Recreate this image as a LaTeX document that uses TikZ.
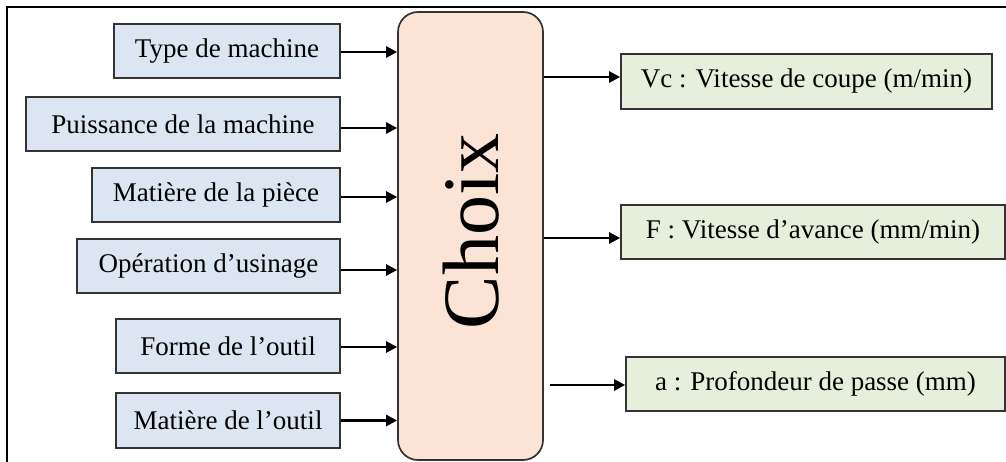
\documentclass[tikz,border=0pt]{standalone}
\usepackage{fontspec}
\setmainfont{Liberation Serif}
\usetikzlibrary{arrows.meta,calc}
\definecolor{inblue}{HTML}{DCE6F2}
\definecolor{outgreen}{HTML}{E6EFDB}
\definecolor{peach}{HTML}{FBE4D6}
\definecolor{edge}{HTML}{333333}
\tikzset{
  inbox/.style={draw=edge, line width=1.7pt, fill=inblue, minimum height=54pt, inner sep=0pt,
    font=\fontsize{27}{30}\selectfont},
  outbox/.style={draw=edge, line width=1.7pt, fill=outgreen, minimum height=54pt, inner sep=0pt,
    font=\fontsize{27}{30}\selectfont},
  conn/.style={line width=2.6pt, -{Triangle[length=11pt,width=11pt]}},
}
\begin{document}
\begin{tikzpicture}[x=1pt,y=-1pt]
\useasboundingbox (0,0) rectangle (1006,462);
\fill[white] (0,0) rectangle (1006,462);
% frame
\draw[line width=2.5pt] (7,462) -- (7,7) -- (1006,7);
% central box
\node[draw=edge, line width=1.7pt, fill=peach, rounded corners=20pt, minimum width=145pt, minimum height=448pt, inner sep=0pt] (choix) at (470.5,236) {};
\node[font=\fontsize{80}{90}\selectfont, rotate=90, inner sep=0pt] (choixlbl) at (471,231.5) {Choix};
% inputs
\node[inbox, minimum width=226pt] (t1) at (227,51) {Type de machine};
\node[inbox, minimum width=314pt] (t2) at (183,124) {Puissance de la machine};
\node[inbox, minimum width=248pt] (t3) at (216,195) {Matière de la pièce};
\node[inbox, minimum width=263pt] (t4) at (208.5,266) {Opération d’usinage};
\node[inbox, minimum width=224pt] (t5) at (228,346) {Forme de l’outil};
\node[inbox, minimum width=224pt, minimum height=55pt] (t6) at (228,420.5) {Matière de l’outil};
% outputs
\node[outbox, minimum width=371pt, minimum height=55pt] (vc) at (806.5,81.5) {Vc : Vitesse de coupe (m/min)};
\node[outbox, minimum width=384pt] (f) at (813,232) {F : Vitesse d’avance (mm/min)};
\node[outbox, minimum width=379pt] (a) at (815.5,384) {a : Profondeur de passe (mm)};
% input connectors
\coordinate (s1) at ($(t1.east)+(0,1)$);
\coordinate (s2) at ($(t2.east)+(0,4)$);
\coordinate (s3) at ($(t3.east)+(0,2)$);
\coordinate (s4) at ($(t4.east)+(0,4)$);
\coordinate (s5) at ($(t5.east)+(0,1)$);
\coordinate (s6) at (t6.east);
\foreach \s in {s1,s2,s3,s4,s5,s6}
  \draw[conn] (\s) -- (\s -| choix.west);
% output connectors
\coordinate (e1) at ($(vc.west)+(0,-4.5)$);
\coordinate (e2) at ($(f.west)+(0,6)$);
\draw[conn] (e1 -| choix.east) -- (e1);
\draw[conn] (e2 -| choix.east) -- (e2);
\coordinate (astart) at ($(a.west -| choix.east)+(6,1)$);
\draw[conn] (astart) -- (astart -| a.west);
\end{tikzpicture}
\end{document}
